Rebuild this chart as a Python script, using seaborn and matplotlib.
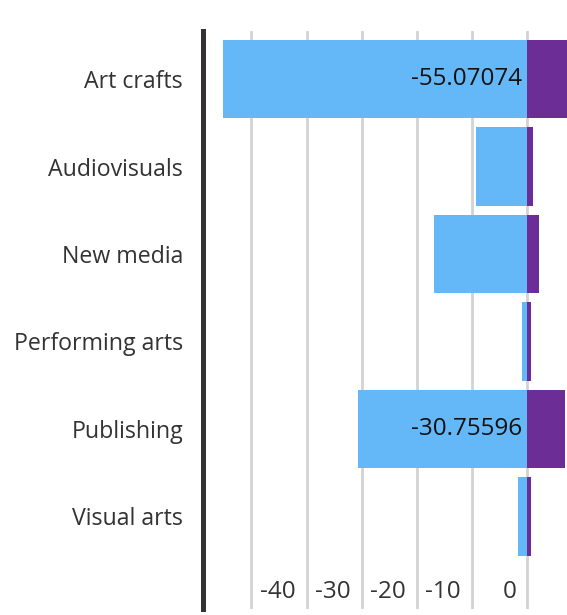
import matplotlib
matplotlib.use("Agg")
import matplotlib.pyplot as plt
import matplotlib.transforms as mtransforms
import seaborn as sns
import pandas as pd

categories = ["Art crafts", "Audiovisuals", "New media", "Performing arts", "Publishing", "Visual arts"]
negative_values = [-55.07074, -9.3, -16.9, -0.9, -30.75596, -1.6]
positive_values = [7.5, 1.1, 2.2, 0.7, 6.9, 0.7]
grid_values = [-50, -40, -30, -20, -10, 0]
tick_labels = ["", "-40", "-30", "-20", "-10", "0"]
labelled = ["Art crafts", "Publishing"]

BLUE = "#64B8F8"
PURPLE = "#6C2D97"
FONT = ["Open Sans", "DejaVu Sans"]

sns.set_style("white")
plt.rcParams["font.family"] = FONT

df = pd.DataFrame({"cat": categories, "neg": negative_values, "pos": positive_values})

fig = plt.figure(figsize=(5.67, 6.15), dpi=100)
ax = fig.add_axes([202.5 / 567, 1 - 609 / 615, 1 - 202.5 / 567, (609 - 31) / 615])

for x in grid_values:
    ax.axvline(x, color="#d3d3d3", lw=2.0, zorder=0)

sns.barplot(data=df, x="neg", y="cat", orient="h", color=BLUE, saturation=1,
            width=0.9, ax=ax, zorder=2, linewidth=0)
sns.barplot(data=df, x="pos", y="cat", orient="h", color=PURPLE, saturation=1,
            width=0.9, ax=ax, zorder=2, linewidth=0)

ax.set_xlim(-58.84, 7.19)
ax.set_ylim(6.06, -0.55)

for i, (c, v) in enumerate(zip(categories, negative_values)):
    if c in labelled:
        ax.text(0, i, f"{v:.5f}", ha="right", va="center", fontsize=17.5, color="#111111",
                transform=ax.transData + mtransforms.ScaledTranslation(-5 / 100, 0, fig.dpi_scale_trans),
                zorder=3)

ax.set_xlabel("")
ax.set_ylabel("")
ax.set_xticks(grid_values)
ax.set_xticklabels(tick_labels)
ax.tick_params(axis="x", length=0, pad=-21, labelsize=17.5, labelcolor="#333333")
ax.tick_params(axis="y", length=0, pad=14, labelsize=16.7, labelcolor="#333333")
offset = mtransforms.ScaledTranslation(-11 / 100, 0, fig.dpi_scale_trans)
for lab in ax.get_xticklabels():
    lab.set_ha("right")
    lab.set_transform(lab.get_transform() + offset)

for s in ["top", "right", "bottom"]:
    ax.spines[s].set_visible(False)
ax.spines["left"].set_color("#333333")
ax.spines["left"].set_linewidth(3.6)
ax.spines["left"].set_zorder(5)
ax.grid(False)

fig.savefig("out.png", dpi=100)
